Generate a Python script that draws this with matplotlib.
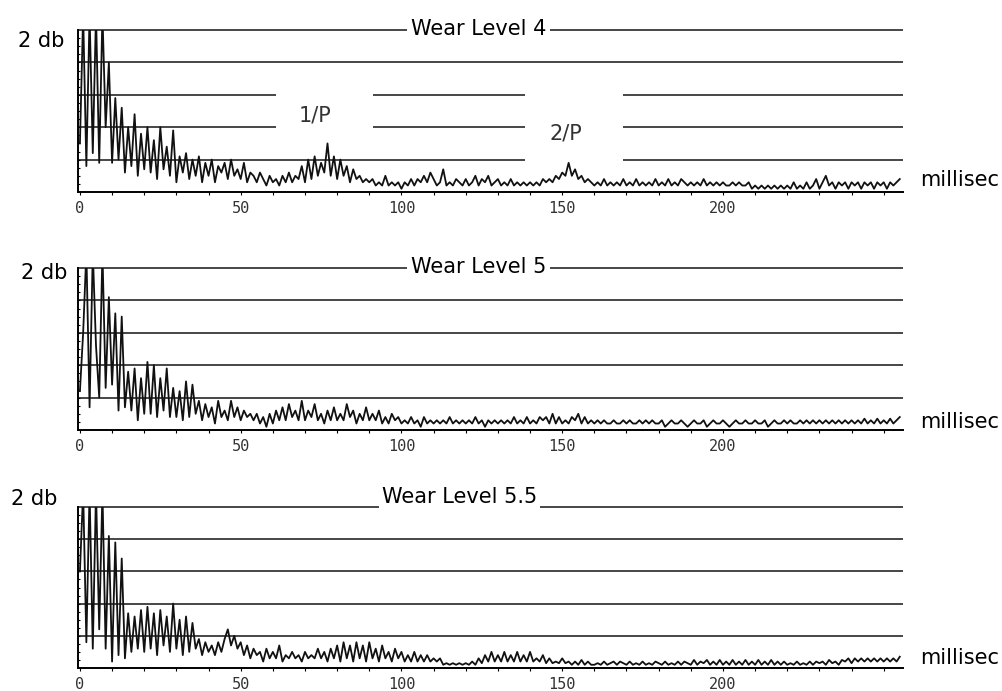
import matplotlib
matplotlib.use("Agg")
import matplotlib.pyplot as plt
import numpy as np

plt.rcParams['font.family'] = ['DejaVu Sans']

#################
# data: cepstrum level (in grid divisions, 1 div = 0.4 db, top = 2 db)
# one value per millisecond, 0..255 ms
#################

wear4 = [1.5, 5.5, 0.8, 5.5, 1.2, 5.5, 0.9, 5.5, 2.0, 4.0,
         0.9, 2.9, 1.0, 2.6, 0.6, 2.0, 0.8, 2.4, 0.5, 1.8,
         0.7, 2.0, 0.6, 1.6, 0.4, 2.0, 0.7, 1.4, 0.5, 1.9,
         0.3, 1.1, 0.6, 1.2, 0.4, 1.0, 0.5, 1.1, 0.3, 0.9,
         0.5, 1.0, 0.3, 0.8, 0.6, 0.9, 0.4, 1.0, 0.5, 0.7,
         0.4, 0.9, 0.3, 0.6, 0.5, 0.3, 0.6, 0.4, 0.2, 0.5,
         0.3, 0.4, 0.2, 0.5, 0.3, 0.6, 0.3, 0.5, 0.4, 0.8,
         0.3, 1.0, 0.4, 1.1, 0.5, 0.9, 0.6, 1.5, 0.5, 1.1,
         0.4, 1.0, 0.5, 0.8, 0.3, 0.7, 0.4, 0.5, 0.3, 0.4,
         0.3, 0.4, 0.2, 0.3, 0.2, 0.5, 0.2, 0.3, 0.2, 0.3,
         0.1, 0.3, 0.2, 0.4, 0.2, 0.4, 0.3, 0.5, 0.3, 0.6,
         0.4, 0.2, 0.3, 0.7, 0.2, 0.3, 0.2, 0.4, 0.3, 0.2,
         0.4, 0.2, 0.3, 0.5, 0.2, 0.4, 0.3, 0.5, 0.2, 0.3,
         0.4, 0.2, 0.3, 0.2, 0.4, 0.2, 0.3, 0.2, 0.3, 0.2,
         0.3, 0.2, 0.3, 0.2, 0.4, 0.3, 0.4, 0.3, 0.5, 0.4,
         0.6, 0.5, 0.9, 0.5, 0.7, 0.4, 0.5, 0.3, 0.4, 0.3,
         0.2, 0.3, 0.2, 0.4, 0.2, 0.3, 0.2, 0.3, 0.2, 0.4,
         0.2, 0.3, 0.2, 0.4, 0.2, 0.3, 0.2, 0.3, 0.2, 0.4,
         0.2, 0.3, 0.2, 0.4, 0.2, 0.3, 0.2, 0.4, 0.3, 0.2,
         0.3, 0.2, 0.3, 0.2, 0.4, 0.2, 0.3, 0.2, 0.3, 0.2,
         0.3, 0.2, 0.2, 0.3, 0.2, 0.3, 0.2, 0.2, 0.3, 0.1,
         0.2, 0.1, 0.2, 0.1, 0.2, 0.1, 0.2, 0.1, 0.2, 0.1,
         0.2, 0.1, 0.3, 0.1, 0.2, 0.1, 0.3, 0.1, 0.2, 0.4,
         0.1, 0.3, 0.5, 0.2, 0.3, 0.1, 0.3, 0.2, 0.3, 0.1,
         0.3, 0.2, 0.3, 0.1, 0.3, 0.2, 0.3, 0.1, 0.3, 0.2,
         0.3, 0.1, 0.3, 0.2, 0.3, 0.4]

wear5 = [1.2, 3.0, 5.5, 0.7, 5.5, 2.6, 1.0, 5.5, 1.3, 4.1,
         1.4, 3.6, 0.6, 3.5, 0.7, 1.8, 0.6, 1.9, 0.3, 1.6,
         0.5, 2.1, 0.5, 2.0, 0.4, 1.6, 0.6, 1.9, 0.4, 1.3,
         0.4, 1.2, 0.3, 1.5, 0.4, 1.4, 0.5, 0.9, 0.3, 0.8,
         0.4, 0.7, 0.2, 0.9, 0.4, 0.6, 0.3, 0.9, 0.4, 0.7,
         0.3, 0.6, 0.4, 0.5, 0.3, 0.5, 0.2, 0.4, 0.1, 0.5,
         0.2, 0.6, 0.3, 0.7, 0.3, 0.8, 0.4, 0.6, 0.3, 0.9,
         0.3, 0.6, 0.4, 0.8, 0.3, 0.5, 0.2, 0.6, 0.3, 0.7,
         0.3, 0.5, 0.3, 0.8, 0.4, 0.6, 0.2, 0.5, 0.3, 0.7,
         0.3, 0.5, 0.3, 0.6, 0.2, 0.4, 0.2, 0.5, 0.3, 0.4,
         0.2, 0.3, 0.2, 0.4, 0.2, 0.3, 0.1, 0.4, 0.2, 0.3,
         0.2, 0.3, 0.2, 0.3, 0.2, 0.4, 0.2, 0.3, 0.2, 0.3,
         0.2, 0.3, 0.2, 0.4, 0.2, 0.3, 0.1, 0.3, 0.2, 0.3,
         0.2, 0.3, 0.2, 0.3, 0.2, 0.4, 0.2, 0.3, 0.2, 0.4,
         0.2, 0.3, 0.2, 0.4, 0.3, 0.4, 0.2, 0.5, 0.2, 0.4,
         0.2, 0.3, 0.2, 0.4, 0.3, 0.5, 0.2, 0.4, 0.2, 0.3,
         0.2, 0.3, 0.2, 0.3, 0.2, 0.2, 0.3, 0.2, 0.2, 0.3,
         0.2, 0.3, 0.2, 0.2, 0.3, 0.2, 0.3, 0.2, 0.3, 0.2,
         0.2, 0.3, 0.1, 0.2, 0.3, 0.2, 0.2, 0.3, 0.2, 0.1,
         0.2, 0.3, 0.2, 0.2, 0.3, 0.1, 0.2, 0.3, 0.2, 0.2,
         0.3, 0.2, 0.1, 0.2, 0.3, 0.2, 0.2, 0.3, 0.2, 0.2,
         0.3, 0.2, 0.2, 0.3, 0.1, 0.2, 0.3, 0.2, 0.2, 0.3,
         0.2, 0.3, 0.2, 0.2, 0.3, 0.2, 0.3, 0.2, 0.3, 0.2,
         0.3, 0.2, 0.3, 0.2, 0.3, 0.2, 0.3, 0.2, 0.3, 0.2,
         0.3, 0.2, 0.3, 0.2, 0.35, 0.2, 0.3, 0.2, 0.35, 0.2,
         0.3, 0.2, 0.35, 0.2, 0.3, 0.4]

wear55 = [3.0, 5.5, 0.8, 5.5, 0.6, 5.5, 1.2, 5.5, 0.6, 4.1,
          0.2, 3.9, 0.4, 3.4, 0.3, 1.7, 0.5, 1.6, 0.6, 1.8,
          0.5, 1.9, 0.6, 1.7, 0.4, 1.8, 0.7, 1.6, 0.5, 2.0,
          0.6, 1.5, 0.4, 1.6, 0.5, 1.4, 0.6, 0.9, 0.4, 0.8,
          0.5, 0.7, 0.4, 0.8, 0.5, 0.9, 1.2, 0.7, 1.0, 0.6,
          0.8, 0.4, 0.7, 0.3, 0.6, 0.4, 0.5, 0.2, 0.6, 0.3,
          0.5, 0.3, 0.7, 0.2, 0.4, 0.3, 0.5, 0.3, 0.4, 0.2,
          0.5, 0.3, 0.4, 0.3, 0.6, 0.3, 0.5, 0.2, 0.6, 0.3,
          0.7, 0.2, 0.8, 0.3, 0.7, 0.2, 0.8, 0.3, 0.7, 0.2,
          0.8, 0.3, 0.6, 0.2, 0.7, 0.3, 0.5, 0.2, 0.6, 0.3,
          0.5, 0.2, 0.4, 0.2, 0.5, 0.2, 0.4, 0.2, 0.4, 0.2,
          0.3, 0.2, 0.3, 0.1, 0.15, 0.1, 0.15, 0.1, 0.15, 0.1,
          0.15, 0.1, 0.2, 0.1, 0.3, 0.15, 0.4, 0.2, 0.5, 0.2,
          0.4, 0.2, 0.5, 0.2, 0.4, 0.2, 0.5, 0.2, 0.4, 0.2,
          0.5, 0.2, 0.3, 0.2, 0.4, 0.15, 0.3, 0.15, 0.2, 0.15,
          0.3, 0.15, 0.2, 0.1, 0.2, 0.1, 0.25, 0.1, 0.2, 0.1,
          0.1, 0.15, 0.1, 0.2, 0.1, 0.15, 0.2, 0.1, 0.2, 0.15,
          0.1, 0.2, 0.1, 0.15, 0.1, 0.2, 0.1, 0.15, 0.1, 0.2,
          0.15, 0.1, 0.2, 0.1, 0.15, 0.1, 0.2, 0.1, 0.2, 0.15,
          0.1, 0.25, 0.1, 0.2, 0.15, 0.25, 0.1, 0.2, 0.1, 0.25,
          0.1, 0.2, 0.1, 0.25, 0.1, 0.2, 0.1, 0.25, 0.1, 0.2,
          0.1, 0.25, 0.1, 0.2, 0.1, 0.25, 0.1, 0.2, 0.1, 0.2,
          0.1, 0.15, 0.1, 0.2, 0.1, 0.15, 0.1, 0.2, 0.1, 0.2,
          0.15, 0.2, 0.1, 0.25, 0.15, 0.2, 0.1, 0.25, 0.2, 0.3,
          0.15, 0.3, 0.2, 0.3, 0.2, 0.3, 0.2, 0.3, 0.2, 0.3,
          0.2, 0.3, 0.2, 0.3, 0.2, 0.35]

titles = ['Wear Level 4', 'Wear Level 5', 'Wear Level 5.5']
title_ms = [124, 124, 118]
x_ticks = [0, 50, 100, 150, 200]
grid_levels = [1, 2, 3, 4, 5]

# gaps in the grid lines where the 1/P and 2/P labels sit (panel 1 only)
gaps_p1 = {3: [(61, 91), (138.5, 169)], 2: [(61, 91), (138.5, 169)], 1: [(138.5, 169)]}

ms = np.arange(len(wear4))
series = [wear4, wear5, wear55]

#################
# plotting
#################
fig = plt.figure(figsize=(10.03, 6.91), dpi=100)
W, H = 1003, 691
boxes = [(78, 30, 192), (78, 268, 430), (78, 507, 668)]   # left, top, bottom in px
right = 903
xmax = 256

for i, (left, top, bot) in enumerate(boxes):
    ax = fig.add_axes([left / W, 1 - bot / H, (right - left) / W, (bot - top) / H])
    ax.set_xlim(-0.6, xmax)
    ax.set_ylim(0, 5)

    # grid lines (drawn as segments so the label gaps can be left open)
    for lev in grid_levels:
        gaps = gaps_p1.get(lev, []) if i == 0 else []
        start = -0.6
        for g0, g1 in gaps:
            ax.hlines(lev, start, g0, color='#151515', lw=1.1, zorder=1, clip_on=False)
            start = g1
        ax.hlines(lev, start, xmax, color='#151515', lw=1.1, zorder=1, clip_on=False)

    ax.plot(ms, series[i], color='#111111', lw=1.3, zorder=2)

    for s in ['top', 'right']:
        ax.spines[s].set_visible(False)
    ax.spines['left'].set_linewidth(1.4)
    ax.spines['bottom'].set_linewidth(1.4)

    ax.set_xticks(x_ticks)
    ax.set_xticks(np.arange(0, 251, 10), minor=True)
    ax.set_xticklabels([str(t) for t in x_ticks], family='DejaVu Sans Mono',
                       fontsize=11, color='#333333')
    ax.tick_params(axis='x', which='both', direction='out', length=2.5, width=0.8, pad=4)
    ax.set_yticks([])
    ax.set_yticks(np.arange(0.25, 5, 0.25), minor=True)
    ax.tick_params(axis='y', which='minor', direction='in', length=1.5, width=0.8)

    # panel title sits on the top grid line
    if i < 2:
        ax.text(title_ms[i], 4.85, titles[i], ha='center', va='baseline', fontsize=15,
                bbox=dict(facecolor='white', edgecolor='none', pad=3), zorder=3,
                clip_on=False)
    else:
        ax.text(title_ms[i], 5.12, titles[i], ha='center', va='baseline', fontsize=15,
                bbox=dict(facecolor='white', edgecolor='none', pad=2), zorder=3,
                clip_on=False)

    # "2 db" full-scale label
    if i == 0:
        ax.annotate('2 db', xy=(0, 1), xycoords='axes fraction', xytext=(-9.5, -1),
                    textcoords='offset points', ha='right', va='top', fontsize=15)
    elif i == 1:
        ax.annotate('2 db', xy=(0, 1), xycoords='axes fraction', xytext=(-7.5, 3.5),
                    textcoords='offset points', ha='right', va='top', fontsize=15)
    else:
        ax.annotate('2 db', xy=(0, 1), xycoords='axes fraction', xytext=(-14.5, 1.5),
                    textcoords='offset points', ha='right', va='baseline', fontsize=15)

    millisec_dy = [4, 1.5, 3][i]
    ax.annotate('millisec', xy=(1, 0), xycoords='axes fraction', xytext=(12, millisec_dy),
                textcoords='offset points', ha='left', va='baseline', fontsize=15)

    if i == 0:
        ax.text(73, 2.35, '1/P', ha='center', va='center', fontsize=15, color='#333333')
        ax.text(151, 1.8, '2/P', ha='center', va='center', fontsize=15, color='#333333')

plt.savefig('out.png', dpi=100)
